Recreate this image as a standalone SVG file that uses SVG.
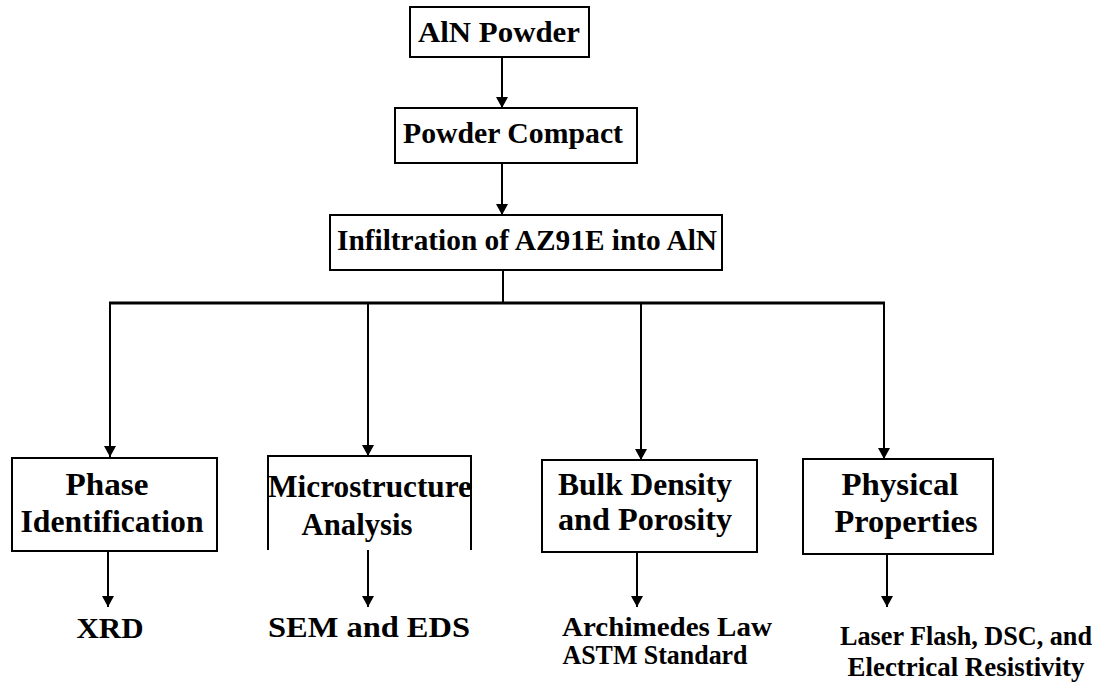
<svg xmlns="http://www.w3.org/2000/svg" width="1105" height="682" viewBox="0 0 1105 682">
<defs>
<marker id="ah" markerUnits="userSpaceOnUse" markerWidth="12" markerHeight="12" refX="11" refY="6" orient="auto">
<path d="M0,0 L11,6 L0,12 z" fill="#000"/>
</marker>
<style>
.box{fill:#fff;stroke:#000;stroke-width:2}
.t{font-family:'Liberation Serif','DejaVu Serif',serif;font-weight:bold;fill:#000;text-anchor:middle}
.c{fill:none;stroke:#000;stroke-width:2}
</style>
</defs>
<rect width="1105" height="682" fill="#fff"/>
<g id="connectors">
<line class="c" x1="502" y1="57" x2="502" y2="108" marker-end="url(#ah)"/>
<line class="c" x1="502" y1="163" x2="502" y2="215" marker-end="url(#ah)"/>
<line class="c" x1="503" y1="270" x2="503" y2="303"/>
<line x1="109" y1="303" x2="885" y2="303" stroke="#000" stroke-width="3"/>
<line class="c" x1="110" y1="303" x2="110" y2="457" marker-end="url(#ah)"/>
<line class="c" x1="368" y1="303" x2="368" y2="456" marker-end="url(#ah)"/>
<line class="c" x1="641" y1="303" x2="641" y2="460" marker-end="url(#ah)"/>
<line class="c" x1="884" y1="303" x2="884" y2="459" marker-end="url(#ah)"/>
<line class="c" x1="108" y1="552" x2="108" y2="607" marker-end="url(#ah)"/>
<line class="c" x1="368" y1="550" x2="368" y2="607" marker-end="url(#ah)"/>
<line class="c" x1="637" y1="552" x2="637" y2="607" marker-end="url(#ah)"/>
<line class="c" x1="887" y1="554" x2="887" y2="607" marker-end="url(#ah)"/>
</g>
<g id="aln-powder">
<rect class="box" x="410" y="7" width="179" height="50"/>
<text class="t" font-family="Liberation Serif, DejaVu Serif, serif" x="499" y="42" font-size="30" textLength="162" lengthAdjust="spacingAndGlyphs">AlN Powder</text>
</g>
<g id="powder-compact">
<rect class="box" x="395" y="108" width="242" height="55"/>
<text class="t" x="513" y="143" font-size="29" textLength="220" lengthAdjust="spacingAndGlyphs">Powder Compact</text>
</g>
<g id="infiltration">
<rect class="box" x="330" y="215" width="392" height="55"/>
<text class="t" x="527" y="250" font-size="29" textLength="380" lengthAdjust="spacingAndGlyphs">Infiltration of AZ91E into AlN</text>
</g>
<g id="phase">
<rect class="box" x="12" y="458" width="205" height="93"/>
<text class="t" x="107" y="495" font-size="32" textLength="83" lengthAdjust="spacingAndGlyphs">Phase</text>
<text class="t" x="112" y="532" font-size="32" textLength="183" lengthAdjust="spacingAndGlyphs">Identification</text>
</g>
<g id="microstructure">
<text class="t" x="370" y="497" font-size="31" textLength="204" lengthAdjust="spacingAndGlyphs">Microstructure</text>
<text class="t" x="357" y="535" font-size="31" textLength="111" lengthAdjust="spacingAndGlyphs">Analysis</text>
<path class="c" d="M268,550 V456 H471 V550"/>
</g>
<g id="bulk">
<rect class="box" x="542" y="460" width="215" height="92"/>
<text class="t" x="645" y="495" font-size="32" textLength="174" lengthAdjust="spacingAndGlyphs">Bulk Density</text>
<text class="t" x="645" y="530" font-size="32" textLength="174" lengthAdjust="spacingAndGlyphs">and Porosity</text>
</g>
<g id="physical">
<rect class="box" x="803" y="459" width="190" height="95"/>
<text class="t" x="900" y="495" font-size="32" textLength="117" lengthAdjust="spacingAndGlyphs">Physical</text>
<text class="t" x="906" y="532" font-size="32" textLength="143" lengthAdjust="spacingAndGlyphs">Properties</text>
</g>
<g id="xrd">
<text class="t" x="110" y="638" font-size="30" textLength="67" lengthAdjust="spacingAndGlyphs">XRD</text>
</g>
<g id="sem">
<text class="t" x="369" y="637" font-size="30" textLength="202" lengthAdjust="spacingAndGlyphs">SEM and EDS</text>
</g>
<g id="archimedes">
<text class="t" x="667" y="636" font-size="27" textLength="210" lengthAdjust="spacingAndGlyphs">Archimedes Law</text>
<text class="t" x="655" y="664" font-size="27" textLength="185" lengthAdjust="spacingAndGlyphs">ASTM Standard</text>
</g>
<g id="laser">
<text class="t" x="966" y="645" font-size="28" textLength="252" lengthAdjust="spacingAndGlyphs">Laser Flash, DSC, and</text>
<text class="t" x="966" y="676" font-size="28" textLength="237" lengthAdjust="spacingAndGlyphs">Electrical Resistivity</text>
</g>
</svg>
